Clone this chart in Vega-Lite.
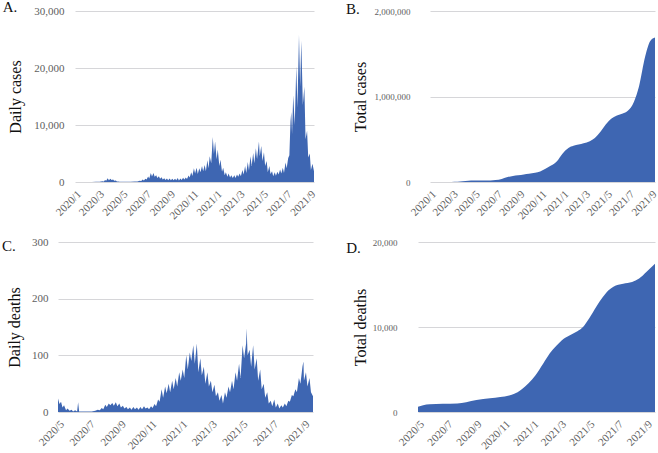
{
  "$schema": "https://vega.github.io/schema/vega-lite/v6.json",
  "padding": {"left": 1, "top": 0, "right": 0, "bottom": 0},
  "config": {
    "font": "Liberation Serif",
    "view": {"stroke": null},
    "axis": {"labelFont": "Liberation Serif", "labelFontSize": 11, "labelColor": "#606060", "titleFont": "Liberation Serif", "titleFontSize": 16, "titleFontWeight": "normal", "titleColor": "#111111", "domain": false, "ticks": false, "gridColor": "#d6d6d9", "labelFlush": false, "labelOverlap": false},
    "axisX": {"grid": false, "labelAngle": -45, "labelPadding": 6},
    "title": {"font": "Liberation Serif", "fontSize": 15, "fontWeight": "normal", "color": "#111111", "anchor": "start", "frame": "bounds", "baseline": "alphabetic"}
  },
  "datasets": {
    "empty": [],
    "cases": [
      {"date": "2020-01-16", "cases": 1}, {"date": "2020-02-01", "cases": 1}, {"date": "2020-02-15", "cases": 8}, {"date": "2020-02-29", "cases": 15},
      {"date": "2020-03-10", "cases": 50}, {"date": "2020-03-20", "cases": 40}, {"date": "2020-03-27", "cases": 110}, {"date": "2020-03-31", "cases": 90},
      {"date": "2020-04-03", "cases": 350}, {"date": "2020-04-06", "cases": 200}, {"date": "2020-04-10", "cases": 650}, {"date": "2020-04-13", "cases": 300},
      {"date": "2020-04-17", "cases": 580}, {"date": "2020-04-20", "cases": 370}, {"date": "2020-04-24", "cases": 430}, {"date": "2020-04-27", "cases": 200},
      {"date": "2020-05-01", "cases": 260}, {"date": "2020-05-04", "cases": 100}, {"date": "2020-05-08", "cases": 90}, {"date": "2020-05-11", "cases": 40},
      {"date": "2020-05-15", "cases": 50}, {"date": "2020-05-20", "cases": 30}, {"date": "2020-05-29", "cases": 40}, {"date": "2020-06-08", "cases": 40},
      {"date": "2020-06-19", "cases": 70}, {"date": "2020-06-26", "cases": 100}, {"date": "2020-07-02", "cases": 200}, {"date": "2020-07-06", "cases": 160},
      {"date": "2020-07-10", "cases": 420}, {"date": "2020-07-13", "cases": 250}, {"date": "2020-07-17", "cases": 590}, {"date": "2020-07-20", "cases": 420},
      {"date": "2020-07-24", "cases": 970}, {"date": "2020-07-27", "cases": 600}, {"date": "2020-07-31", "cases": 1580}, {"date": "2020-08-03", "cases": 960},
      {"date": "2020-08-07", "cases": 1600}, {"date": "2020-08-10", "cases": 900}, {"date": "2020-08-14", "cases": 1200}, {"date": "2020-08-17", "cases": 700},
      {"date": "2020-08-21", "cases": 1000}, {"date": "2020-08-24", "cases": 580}, {"date": "2020-08-28", "cases": 850}, {"date": "2020-08-31", "cases": 430},
      {"date": "2020-09-04", "cases": 640}, {"date": "2020-09-07", "cases": 330}, {"date": "2020-09-11", "cases": 620}, {"date": "2020-09-14", "cases": 300},
      {"date": "2020-09-18", "cases": 600}, {"date": "2020-09-21", "cases": 320}, {"date": "2020-09-25", "cases": 560}, {"date": "2020-09-28", "cases": 320},
      {"date": "2020-10-02", "cases": 590}, {"date": "2020-10-05", "cases": 300}, {"date": "2020-10-09", "cases": 700}, {"date": "2020-10-12", "cases": 280},
      {"date": "2020-10-16", "cases": 630}, {"date": "2020-10-19", "cases": 340}, {"date": "2020-10-23", "cases": 750}, {"date": "2020-10-26", "cases": 440},
      {"date": "2020-10-30", "cases": 800}, {"date": "2020-11-02", "cases": 520}, {"date": "2020-11-06", "cases": 1150}, {"date": "2020-11-09", "cases": 780},
      {"date": "2020-11-13", "cases": 1700}, {"date": "2020-11-16", "cases": 1050}, {"date": "2020-11-20", "cases": 2400}, {"date": "2020-11-23", "cases": 1500},
      {"date": "2020-11-27", "cases": 2500}, {"date": "2020-11-30", "cases": 1400}, {"date": "2020-12-04", "cases": 2400}, {"date": "2020-12-07", "cases": 1700},
      {"date": "2020-12-11", "cases": 2800}, {"date": "2020-12-14", "cases": 1900}, {"date": "2020-12-18", "cases": 3000}, {"date": "2020-12-21", "cases": 1900},
      {"date": "2020-12-25", "cases": 3800}, {"date": "2020-12-28", "cases": 2400}, {"date": "2020-12-31", "cases": 4500}, {"date": "2021-01-04", "cases": 3300},
      {"date": "2021-01-08", "cases": 7900}, {"date": "2021-01-11", "cases": 4900}, {"date": "2021-01-14", "cases": 7100}, {"date": "2021-01-18", "cases": 4000},
      {"date": "2021-01-21", "cases": 5700}, {"date": "2021-01-25", "cases": 2800}, {"date": "2021-01-28", "cases": 3900}, {"date": "2021-02-01", "cases": 1800},
      {"date": "2021-02-04", "cases": 2500}, {"date": "2021-02-08", "cases": 1200}, {"date": "2021-02-11", "cases": 1700}, {"date": "2021-02-15", "cases": 900},
      {"date": "2021-02-18", "cases": 1500}, {"date": "2021-02-22", "cases": 800}, {"date": "2021-02-25", "cases": 1200}, {"date": "2021-03-01", "cases": 700},
      {"date": "2021-03-05", "cases": 1200}, {"date": "2021-03-08", "cases": 700}, {"date": "2021-03-12", "cases": 1300}, {"date": "2021-03-15", "cases": 900},
      {"date": "2021-03-19", "cases": 1500}, {"date": "2021-03-22", "cases": 1000}, {"date": "2021-03-26", "cases": 2100}, {"date": "2021-03-29", "cases": 1300},
      {"date": "2021-04-02", "cases": 2800}, {"date": "2021-04-05", "cases": 1600}, {"date": "2021-04-09", "cases": 3500}, {"date": "2021-04-12", "cases": 2000},
      {"date": "2021-04-16", "cases": 4500}, {"date": "2021-04-19", "cases": 2800}, {"date": "2021-04-23", "cases": 5100}, {"date": "2021-04-26", "cases": 3300},
      {"date": "2021-04-30", "cases": 5900}, {"date": "2021-05-03", "cases": 4000}, {"date": "2021-05-08", "cases": 7100}, {"date": "2021-05-10", "cases": 4500},
      {"date": "2021-05-14", "cases": 6300}, {"date": "2021-05-17", "cases": 3700}, {"date": "2021-05-21", "cases": 5200}, {"date": "2021-05-24", "cases": 2800},
      {"date": "2021-05-28", "cases": 3700}, {"date": "2021-05-31", "cases": 1700}, {"date": "2021-06-04", "cases": 2800}, {"date": "2021-06-07", "cases": 1400},
      {"date": "2021-06-11", "cases": 1900}, {"date": "2021-06-14", "cases": 1000}, {"date": "2021-06-18", "cases": 1700}, {"date": "2021-06-21", "cases": 1100},
      {"date": "2021-06-25", "cases": 1800}, {"date": "2021-06-28", "cases": 1300}, {"date": "2021-07-02", "cases": 2200}, {"date": "2021-07-05", "cases": 1500},
      {"date": "2021-07-09", "cases": 2500}, {"date": "2021-07-12", "cases": 1600}, {"date": "2021-07-16", "cases": 3400}, {"date": "2021-07-19", "cases": 2400},
      {"date": "2021-07-23", "cases": 4200}, {"date": "2021-07-26", "cases": 4700}, {"date": "2021-07-29", "cases": 10700}, {"date": "2021-07-31", "cases": 12300},
      {"date": "2021-08-02", "cases": 8400}, {"date": "2021-08-05", "cases": 15200}, {"date": "2021-08-09", "cases": 10000}, {"date": "2021-08-13", "cases": 20300},
      {"date": "2021-08-16", "cases": 13000}, {"date": "2021-08-20", "cases": 25800}, {"date": "2021-08-23", "cases": 16700}, {"date": "2021-08-26", "cases": 24800},
      {"date": "2021-08-30", "cases": 13500}, {"date": "2021-09-03", "cases": 16700}, {"date": "2021-09-06", "cases": 7500}, {"date": "2021-09-10", "cases": 9000},
      {"date": "2021-09-13", "cases": 4300}, {"date": "2021-09-17", "cases": 5000}, {"date": "2021-09-20", "cases": 2100}, {"date": "2021-09-24", "cases": 3200},
      {"date": "2021-09-28", "cases": 1900}
    ],
    "total_cases": [
      {"date": "2020-01-16", "total": 1}, {"date": "2020-02-15", "total": 50}, {"date": "2020-03-15", "total": 800}, {"date": "2020-04-01", "total": 2400},
      {"date": "2020-04-15", "total": 8500}, {"date": "2020-05-01", "total": 14300}, {"date": "2020-05-15", "total": 16100}, {"date": "2020-06-01", "total": 16800},
      {"date": "2020-06-15", "total": 17500}, {"date": "2020-07-01", "total": 18700}, {"date": "2020-07-15", "total": 23000}, {"date": "2020-08-01", "total": 36000},
      {"date": "2020-08-15", "total": 55000}, {"date": "2020-09-01", "total": 71000}, {"date": "2020-09-15", "total": 79000}, {"date": "2020-10-01", "total": 88000},
      {"date": "2020-10-15", "total": 96000}, {"date": "2020-11-01", "total": 107000}, {"date": "2020-11-15", "total": 124000}, {"date": "2020-12-01", "total": 158000},
      {"date": "2020-12-15", "total": 192000}, {"date": "2021-01-01", "total": 246000}, {"date": "2021-01-15", "total": 328000}, {"date": "2021-02-01", "total": 398000},
      {"date": "2021-02-15", "total": 423000}, {"date": "2021-03-01", "total": 438000}, {"date": "2021-03-15", "total": 453000}, {"date": "2021-04-01", "total": 478000},
      {"date": "2021-04-15", "total": 516000}, {"date": "2021-05-01", "total": 592000}, {"date": "2021-05-15", "total": 672000}, {"date": "2021-06-01", "total": 745000},
      {"date": "2021-06-15", "total": 778000}, {"date": "2021-07-01", "total": 800000}, {"date": "2021-07-15", "total": 832000}, {"date": "2021-08-01", "total": 940000},
      {"date": "2021-08-15", "total": 1120000}, {"date": "2021-09-01", "total": 1470000}, {"date": "2021-09-15", "total": 1650000}, {"date": "2021-09-28", "total": 1690000}
    ],
    "deaths": [
      {"date": "2020-05-09", "deaths": 24}, {"date": "2020-05-12", "deaths": 14}, {"date": "2020-05-15", "deaths": 18}, {"date": "2020-05-18", "deaths": 8},
      {"date": "2020-05-21", "deaths": 12}, {"date": "2020-05-25", "deaths": 3}, {"date": "2020-05-28", "deaths": 6}, {"date": "2020-06-01", "deaths": 2},
      {"date": "2020-06-05", "deaths": 4}, {"date": "2020-06-08", "deaths": 1}, {"date": "2020-06-12", "deaths": 3}, {"date": "2020-06-16", "deaths": 1},
      {"date": "2020-06-18", "deaths": 17}, {"date": "2020-06-20", "deaths": 1}, {"date": "2020-06-25", "deaths": 1}, {"date": "2020-07-01", "deaths": 1},
      {"date": "2020-07-08", "deaths": 1}, {"date": "2020-07-15", "deaths": 1}, {"date": "2020-07-22", "deaths": 2}, {"date": "2020-07-27", "deaths": 4},
      {"date": "2020-07-31", "deaths": 3}, {"date": "2020-08-04", "deaths": 7}, {"date": "2020-08-07", "deaths": 5}, {"date": "2020-08-11", "deaths": 13},
      {"date": "2020-08-14", "deaths": 9}, {"date": "2020-08-18", "deaths": 15}, {"date": "2020-08-21", "deaths": 12}, {"date": "2020-08-25", "deaths": 16},
      {"date": "2020-08-28", "deaths": 11}, {"date": "2020-09-01", "deaths": 17}, {"date": "2020-09-04", "deaths": 10}, {"date": "2020-09-08", "deaths": 15},
      {"date": "2020-09-11", "deaths": 8}, {"date": "2020-09-15", "deaths": 11}, {"date": "2020-09-18", "deaths": 6}, {"date": "2020-09-22", "deaths": 9},
      {"date": "2020-09-25", "deaths": 5}, {"date": "2020-09-29", "deaths": 8}, {"date": "2020-10-02", "deaths": 4}, {"date": "2020-10-06", "deaths": 9},
      {"date": "2020-10-09", "deaths": 5}, {"date": "2020-10-13", "deaths": 8}, {"date": "2020-10-16", "deaths": 4}, {"date": "2020-10-20", "deaths": 9},
      {"date": "2020-10-23", "deaths": 5}, {"date": "2020-10-27", "deaths": 10}, {"date": "2020-10-30", "deaths": 6}, {"date": "2020-11-03", "deaths": 8},
      {"date": "2020-11-06", "deaths": 5}, {"date": "2020-11-10", "deaths": 10}, {"date": "2020-11-13", "deaths": 7}, {"date": "2020-11-17", "deaths": 14},
      {"date": "2020-11-20", "deaths": 10}, {"date": "2020-11-24", "deaths": 22}, {"date": "2020-11-27", "deaths": 18}, {"date": "2020-12-01", "deaths": 40},
      {"date": "2020-12-04", "deaths": 25}, {"date": "2020-12-08", "deaths": 45}, {"date": "2020-12-11", "deaths": 33}, {"date": "2020-12-15", "deaths": 50},
      {"date": "2020-12-18", "deaths": 35}, {"date": "2020-12-22", "deaths": 55}, {"date": "2020-12-25", "deaths": 40}, {"date": "2020-12-29", "deaths": 60},
      {"date": "2021-01-01", "deaths": 45}, {"date": "2021-01-05", "deaths": 70}, {"date": "2021-01-08", "deaths": 55}, {"date": "2021-01-12", "deaths": 75},
      {"date": "2021-01-15", "deaths": 60}, {"date": "2021-01-19", "deaths": 100}, {"date": "2021-01-22", "deaths": 75}, {"date": "2021-01-26", "deaths": 105},
      {"date": "2021-01-29", "deaths": 90}, {"date": "2021-02-02", "deaths": 118}, {"date": "2021-02-05", "deaths": 85}, {"date": "2021-02-09", "deaths": 121},
      {"date": "2021-02-12", "deaths": 70}, {"date": "2021-02-16", "deaths": 95}, {"date": "2021-02-19", "deaths": 65}, {"date": "2021-02-23", "deaths": 80},
      {"date": "2021-02-26", "deaths": 50}, {"date": "2021-03-02", "deaths": 70}, {"date": "2021-03-05", "deaths": 45}, {"date": "2021-03-09", "deaths": 55},
      {"date": "2021-03-12", "deaths": 35}, {"date": "2021-03-16", "deaths": 48}, {"date": "2021-03-19", "deaths": 28}, {"date": "2021-03-23", "deaths": 35},
      {"date": "2021-03-26", "deaths": 20}, {"date": "2021-03-30", "deaths": 30}, {"date": "2021-04-02", "deaths": 15}, {"date": "2021-04-06", "deaths": 35},
      {"date": "2021-04-09", "deaths": 25}, {"date": "2021-04-13", "deaths": 45}, {"date": "2021-04-16", "deaths": 35}, {"date": "2021-04-20", "deaths": 55},
      {"date": "2021-04-23", "deaths": 40}, {"date": "2021-04-27", "deaths": 70}, {"date": "2021-04-30", "deaths": 55}, {"date": "2021-05-04", "deaths": 85},
      {"date": "2021-05-07", "deaths": 60}, {"date": "2021-05-11", "deaths": 118}, {"date": "2021-05-14", "deaths": 95}, {"date": "2021-05-18", "deaths": 121},
      {"date": "2021-05-19", "deaths": 148}, {"date": "2021-05-21", "deaths": 100}, {"date": "2021-05-25", "deaths": 110}, {"date": "2021-05-28", "deaths": 80},
      {"date": "2021-06-01", "deaths": 118}, {"date": "2021-06-04", "deaths": 75}, {"date": "2021-06-08", "deaths": 95}, {"date": "2021-06-11", "deaths": 55},
      {"date": "2021-06-15", "deaths": 75}, {"date": "2021-06-18", "deaths": 40}, {"date": "2021-06-22", "deaths": 50}, {"date": "2021-06-25", "deaths": 25},
      {"date": "2021-06-29", "deaths": 35}, {"date": "2021-07-02", "deaths": 15}, {"date": "2021-07-06", "deaths": 20}, {"date": "2021-07-09", "deaths": 10},
      {"date": "2021-07-13", "deaths": 22}, {"date": "2021-07-16", "deaths": 8}, {"date": "2021-07-20", "deaths": 15}, {"date": "2021-07-23", "deaths": 6},
      {"date": "2021-07-27", "deaths": 12}, {"date": "2021-07-30", "deaths": 8}, {"date": "2021-08-03", "deaths": 15}, {"date": "2021-08-06", "deaths": 10},
      {"date": "2021-08-10", "deaths": 20}, {"date": "2021-08-13", "deaths": 18}, {"date": "2021-08-17", "deaths": 30}, {"date": "2021-08-20", "deaths": 28},
      {"date": "2021-08-24", "deaths": 40}, {"date": "2021-08-27", "deaths": 35}, {"date": "2021-08-31", "deaths": 60}, {"date": "2021-09-03", "deaths": 50},
      {"date": "2021-09-07", "deaths": 80}, {"date": "2021-09-09", "deaths": 89}, {"date": "2021-09-10", "deaths": 55}, {"date": "2021-09-14", "deaths": 70},
      {"date": "2021-09-17", "deaths": 45}, {"date": "2021-09-21", "deaths": 60}, {"date": "2021-09-24", "deaths": 35}, {"date": "2021-09-28", "deaths": 28}
    ],
    "total_deaths": [
      {"date": "2020-05-09", "total": 620}, {"date": "2020-05-20", "total": 800}, {"date": "2020-06-03", "total": 900}, {"date": "2020-07-01", "total": 975},
      {"date": "2020-08-01", "total": 1010}, {"date": "2020-08-20", "total": 1150}, {"date": "2020-09-11", "total": 1400}, {"date": "2020-10-10", "total": 1620},
      {"date": "2020-11-01", "total": 1760}, {"date": "2020-11-20", "total": 1950}, {"date": "2020-12-01", "total": 2150}, {"date": "2020-12-15", "total": 2600},
      {"date": "2021-01-01", "total": 3400}, {"date": "2021-01-15", "total": 4300}, {"date": "2021-02-01", "total": 5700}, {"date": "2021-02-15", "total": 6900},
      {"date": "2021-03-01", "total": 7800}, {"date": "2021-03-16", "total": 8600}, {"date": "2021-04-01", "total": 9100}, {"date": "2021-04-15", "total": 9500},
      {"date": "2021-04-27", "total": 10000}, {"date": "2021-05-10", "total": 11000}, {"date": "2021-05-26", "total": 12450}, {"date": "2021-06-08", "total": 13500},
      {"date": "2021-06-20", "total": 14300}, {"date": "2021-07-01", "total": 14750}, {"date": "2021-07-22", "total": 15100}, {"date": "2021-08-10", "total": 15300},
      {"date": "2021-08-25", "total": 15700}, {"date": "2021-09-10", "total": 16500}, {"date": "2021-09-28", "total": 17450}
    ]
  },
  "spacing": 15,
  "vconcat": [
    {
      "spacing": 0,
      "hconcat": [
        {"width": 1, "height": 1, "data": {"name": "empty"}, "mark": "point"},
        {
          "width": 239, "height": 171,
          "title": {"text": "A.", "offset": -10, "dx": -5},
          "data": {"name": "cases"},
          "mark": {"type": "area", "color": "#3e66b2", "interpolate": "linear"},
          "encoding": {
            "x": {"field": "date", "type": "temporal",
              "scale": {"type": "utc", "domain": [{"year": 2020, "month": 1, "date": 16, "utc": true}, {"year": 2021, "month": 9, "date": 28, "utc": true}]},
              "axis": {"title": null, "format": "%Y/%-m", "values": [
                {"year": 2020, "month": 1, "date": 16, "utc": true}, {"year": 2020, "month": 3, "date": 16, "utc": true}, {"year": 2020, "month": 5, "date": 16, "utc": true},
                {"year": 2020, "month": 7, "date": 16, "utc": true}, {"year": 2020, "month": 9, "date": 16, "utc": true}, {"year": 2020, "month": 11, "date": 16, "utc": true},
                {"year": 2021, "month": 1, "date": 16, "utc": true}, {"year": 2021, "month": 3, "date": 16, "utc": true}, {"year": 2021, "month": 5, "date": 16, "utc": true},
                {"year": 2021, "month": 7, "date": 16, "utc": true}, {"year": 2021, "month": 9, "date": 16, "utc": true}]}},
            "y": {"field": "cases", "type": "quantitative", "scale": {"domain": [0, 30000]},
              "axis": {"title": "Daily cases", "values": [0, 10000, 20000, 30000], "format": ",d", "labelPadding": 11, "titlePadding": 10}}
          }
        },
        {"width": 28, "height": 1, "data": {"name": "empty"}, "mark": "point"},
        {
          "width": 225, "height": 171,
          "title": {"text": "B.", "offset": -10, "dx": -6},
          "data": {"name": "total_cases"},
          "mark": {"type": "area", "color": "#3e66b2", "interpolate": "monotone"},
          "encoding": {
            "x": {"field": "date", "type": "temporal",
              "scale": {"type": "utc", "domain": [{"year": 2020, "month": 1, "date": 16, "utc": true}, {"year": 2021, "month": 9, "date": 28, "utc": true}]},
              "axis": {"title": null, "format": "%Y/%-m", "values": [
                {"year": 2020, "month": 1, "date": 16, "utc": true}, {"year": 2020, "month": 3, "date": 16, "utc": true}, {"year": 2020, "month": 5, "date": 16, "utc": true},
                {"year": 2020, "month": 7, "date": 16, "utc": true}, {"year": 2020, "month": 9, "date": 16, "utc": true}, {"year": 2020, "month": 11, "date": 16, "utc": true},
                {"year": 2021, "month": 1, "date": 16, "utc": true}, {"year": 2021, "month": 3, "date": 16, "utc": true}, {"year": 2021, "month": 5, "date": 16, "utc": true},
                {"year": 2021, "month": 7, "date": 16, "utc": true}, {"year": 2021, "month": 9, "date": 16, "utc": true}]}},
            "y": {"field": "total", "type": "quantitative", "scale": {"domain": [0, 2000000]},
              "axis": {"title": "Total cases", "values": [0, 1000000, 2000000], "format": ",d", "labelFontSize": 9, "labelPadding": 20, "titlePadding": 6}}
          }
        }
      ]
    },
    {
      "spacing": 0,
      "hconcat": [
        {"width": 1, "height": 1, "data": {"name": "empty"}, "mark": "point"},
        {
          "width": 255, "height": 170,
          "title": {"text": "C.", "offset": -18, "dx": -4.5},
          "data": {"name": "deaths"},
          "mark": {"type": "area", "color": "#3e66b2", "interpolate": "linear"},
          "encoding": {
            "x": {"field": "date", "type": "temporal",
              "scale": {"type": "utc", "domain": [{"year": 2020, "month": 5, "date": 9, "utc": true}, {"year": 2021, "month": 9, "date": 28, "utc": true}]},
              "axis": {"title": null, "format": "%Y/%-m", "values": [
                {"year": 2020, "month": 5, "date": 9, "utc": true}, {"year": 2020, "month": 7, "date": 9, "utc": true}, {"year": 2020, "month": 9, "date": 9, "utc": true},
                {"year": 2020, "month": 11, "date": 9, "utc": true}, {"year": 2021, "month": 1, "date": 9, "utc": true}, {"year": 2021, "month": 3, "date": 9, "utc": true},
                {"year": 2021, "month": 5, "date": 9, "utc": true}, {"year": 2021, "month": 7, "date": 9, "utc": true}, {"year": 2021, "month": 9, "date": 9, "utc": true}]}},
            "y": {"field": "deaths", "type": "quantitative", "scale": {"domain": [0, 300]},
              "axis": {"title": "Daily deaths", "values": [0, 100, 200, 300], "format": ",d", "labelPadding": 10, "titlePadding": 9}}
          }
        },
        {"width": 33, "height": 1, "data": {"name": "empty"}, "mark": "point"},
        {
          "width": 237, "height": 170,
          "title": {"text": "D.", "offset": -18, "dx": -6},
          "data": {"name": "total_deaths"},
          "mark": {"type": "area", "color": "#3e66b2", "interpolate": "monotone"},
          "encoding": {
            "x": {"field": "date", "type": "temporal",
              "scale": {"type": "utc", "domain": [{"year": 2020, "month": 5, "date": 9, "utc": true}, {"year": 2021, "month": 9, "date": 28, "utc": true}]},
              "axis": {"title": null, "format": "%Y/%-m", "values": [
                {"year": 2020, "month": 5, "date": 9, "utc": true}, {"year": 2020, "month": 7, "date": 9, "utc": true}, {"year": 2020, "month": 9, "date": 9, "utc": true},
                {"year": 2020, "month": 11, "date": 9, "utc": true}, {"year": 2021, "month": 1, "date": 9, "utc": true}, {"year": 2021, "month": 3, "date": 9, "utc": true},
                {"year": 2021, "month": 5, "date": 9, "utc": true}, {"year": 2021, "month": 7, "date": 9, "utc": true}, {"year": 2021, "month": 9, "date": 9, "utc": true}]}},
            "y": {"field": "total", "type": "quantitative", "scale": {"domain": [0, 20000]},
              "axis": {"title": "Total deaths", "values": [0, 10000, 20000], "format": ",d", "labelFontSize": 9, "labelPadding": 21, "titlePadding": 4}}
          }
        }
      ]
    }
  ]
}
